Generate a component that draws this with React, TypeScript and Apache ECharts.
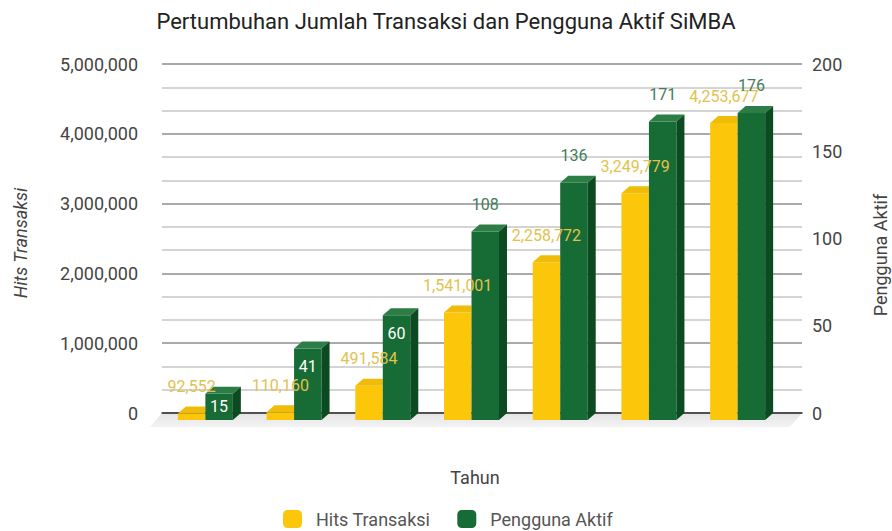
import React, { useEffect, useRef } from 'react';
import * as echarts from 'echarts';

const categories = ['1', '2', '3', '4', '5', '6', '7'];
const hitsTransaksi = [92552, 110160, 491584, 1541001, 2258772, 3249779, 4253677];
const penggunaAktif = [15, 41, 60, 108, 136, 171, 176];
const leftAxisMax = 5000000;
const leftAxisInterval = 1000000;
const rightAxisMax = 200;
const rightAxisInterval = 50;

const FONT = 'Roboto, "Noto Sans", sans-serif';
const fmt = (v: number) => v.toLocaleString('en-US');

const YELLOW = { front: '#fcc70b', top: '#efbc0a', side: '#d9a800', label: '#e2c24e' };
const GREEN = { front: '#176b35', top: '#2c7d46', side: '#0c4a21', label: '#3f7d58' };

function makeRender(isLeft: boolean, c: typeof YELLOW, green: boolean) {
  return (params: any, api: any) => {
    const idx = api.value(0);
    const val = api.value(1);
    const base = api.coord([idx, 0]);
    const topPt = api.coord([idx, val]);
    const band = api.size([1, 0])[0];
    const w = band * 0.31;
    const dx = 8;
    const dy = 7;
    const x0 = isLeft ? base[0] - w : base[0];
    const x1 = x0 + w;
    const yb = base[1];
    const yt = topPt[1];
    const zb = green ? 2 : 1;
    const children: any[] = [
      { type: 'rect', z2: zb, shape: { x: x0, y: yt, width: w, height: yb - yt }, style: { fill: c.front } },
    ];
    if (green) {
      children.push(
        {
          type: 'polygon',
          z2: zb,
          shape: { points: [[x0, yt], [x1, yt], [x1 + dx, yt - dy], [x0 + dx, yt - dy]] },
          style: { fill: c.top },
        },
        {
          type: 'polygon',
          z2: zb,
          shape: { points: [[x1, yt], [x1 + dx, yt - dy], [x1 + dx, yb - dy], [x1, yb]] },
          style: { fill: c.side },
        }
      );
    } else {
      children.push({
        type: 'polygon',
        z2: zb,
        shape: { points: [[x0, yt], [x1, yt], [x1, yt - dy], [x0 + dx, yt - dy]] },
        style: { fill: c.top },
      });
    }
    let labelY = yt - 27;
    let labelColor = c.label;
    if (green && val < 100) {
      labelY = yt + Math.min(18, (yb - yt) / 2);
      labelColor = '#ffffff';
    }
    const txt = green ? String(val) : fmt(val);
    children.push({
      type: 'text',
      z2: 10,
      style: {
        text: txt,
        x: (x0 + x1) / 2,
        y: labelY,
        fill: labelColor,
        fontSize: 16,
        fontFamily: FONT,
        align: 'center',
        verticalAlign: 'middle',
        textAlign: 'center',
        textVerticalAlign: 'middle',
      },
    });
    return { type: 'group', children };
  };
}

export default function App() {
  const ref = useRef<HTMLDivElement>(null);
  useEffect(() => {
    if (!ref.current) return;
    const chart = echarts.init(ref.current, null, { renderer: 'svg' });
    const option: any = {
      animation: false,
      backgroundColor: '#ffffff',
      title: {
        text: 'Pertumbuhan Jumlah Transaksi dan Pengguna Aktif SiMBA',
        left: 'center',
        top: 5,
        textStyle: { fontFamily: FONT, fontSize: 22, fontWeight: 'normal', color: '#222222' },
      },
      legend: {
        left: 278,
        top: 505,
        itemWidth: 19,
        itemHeight: 18,
        itemGap: 27,
        icon: 'roundRect',
        textStyle: { fontFamily: FONT, fontSize: 18, color: '#555555', padding: [0, 0, 0, 9] },
        data: ['Hits Transaksi', 'Pengguna Aktif'],
      },
      grid: [
        { left: 162, right: 90, top: 64, bottom: 118 },
        { left: 161, right: 110, top: 71, bottom: 111 },
      ],
      xAxis: [
        {
          type: 'category',
          gridIndex: 0,
          data: categories,
          axisLabel: { show: false },
          axisTick: { show: false },
          axisLine: { show: true, lineStyle: { color: '#333333', width: 1.5 } },
          z: 3,
        },
        {
          type: 'category',
          gridIndex: 1,
          data: categories,
          show: false,
        },
      ],
      yAxis: [
        {
          type: 'value',
          gridIndex: 0,
          position: 'left',
          min: 0,
          max: leftAxisMax,
          interval: leftAxisInterval,
          axisLabel: {
            margin: 24,
            fontFamily: FONT,
            fontSize: 18,
            color: '#444444',
            formatter: (v: number) => fmt(v),
          },
          axisLine: { show: false },
          axisTick: { show: false },
          splitLine: { show: true, lineStyle: { color: '#aaaaaa', width: 2 } },
          minorTick: { show: false, splitNumber: 3 },
          minorSplitLine: { show: true, lineStyle: { color: '#c6c6c6', width: 1.5 } },
        },
        {
          type: 'value',
          gridIndex: 0,
          position: 'right',
          min: 0,
          max: rightAxisMax,
          interval: rightAxisInterval,
          axisLabel: { margin: 10, fontFamily: FONT, fontSize: 18, color: '#444444' },
          axisLine: { show: false },
          axisTick: { show: false },
          splitLine: { show: false },
        },
        { type: 'value', gridIndex: 1, min: 0, max: leftAxisMax, show: false, splitLine: { show: false } },
        { type: 'value', gridIndex: 1, min: 0, max: rightAxisMax, show: false, splitLine: { show: false } },
      ],
      graphic: [
        {
          type: 'polygon',
          z: -1,
          shape: { points: [[162, 413], [802, 413], [790, 427], [150, 427]] },
          style: {
            fill: new echarts.graphic.LinearGradient(0, 0, 0, 1, [
              { offset: 0, color: '#e4e4e4' },
              { offset: 1, color: '#f3f3f3' },
            ]),
          },
        },
        {
          type: 'text',
          x: 20,
          y: 243,
          rotation: Math.PI / 2,
          style: {
            text: 'Hits Transaksi',
            x: 0,
            y: 0,
            fill: '#444444',
            fontSize: 18,
            fontStyle: 'italic',
            fontFamily: FONT,
            align: 'center',
            verticalAlign: 'middle',
            textAlign: 'center',
            textVerticalAlign: 'middle',
          },
        },
        {
          type: 'text',
          x: 880,
          y: 255,
          rotation: Math.PI / 2,
          style: {
            text: 'Pengguna Aktif',
            x: 0,
            y: 0,
            fill: '#444444',
            fontSize: 18,
            fontFamily: FONT,
            align: 'center',
            verticalAlign: 'middle',
            textAlign: 'center',
            textVerticalAlign: 'middle',
          },
        },
        {
          type: 'text',
          x: 475,
          y: 477,
          style: {
            text: 'Tahun',
            x: 0,
            y: 0,
            fill: '#444444',
            fontSize: 18,
            fontFamily: FONT,
            align: 'center',
            verticalAlign: 'middle',
            textAlign: 'center',
            textVerticalAlign: 'middle',
          },
        },
      ],
      series: [
        {
          name: 'Hits Transaksi',
          type: 'custom',
          xAxisIndex: 1,
          yAxisIndex: 2,
          itemStyle: { color: YELLOW.front },
          renderItem: makeRender(true, YELLOW, false),
          encode: { x: 0, y: 1 },
          data: hitsTransaksi.map((v, i) => [i, v]),
          z: 5,
        },
        {
          name: 'Pengguna Aktif',
          type: 'custom',
          xAxisIndex: 1,
          yAxisIndex: 3,
          itemStyle: { color: GREEN.front },
          renderItem: makeRender(false, GREEN, true),
          encode: { x: 0, y: 1 },
          data: penggunaAktif.map((v, i) => [i, v]),
          z: 5,
        },
      ],
    };
    chart.setOption(option);
    return () => chart.dispose();
  }, []);
  return (
    <div
      ref={ref}
      style={{ position: 'fixed', left: 0, top: 0, width: 892, height: 531, background: '#fff' }}
    />
  );
}
